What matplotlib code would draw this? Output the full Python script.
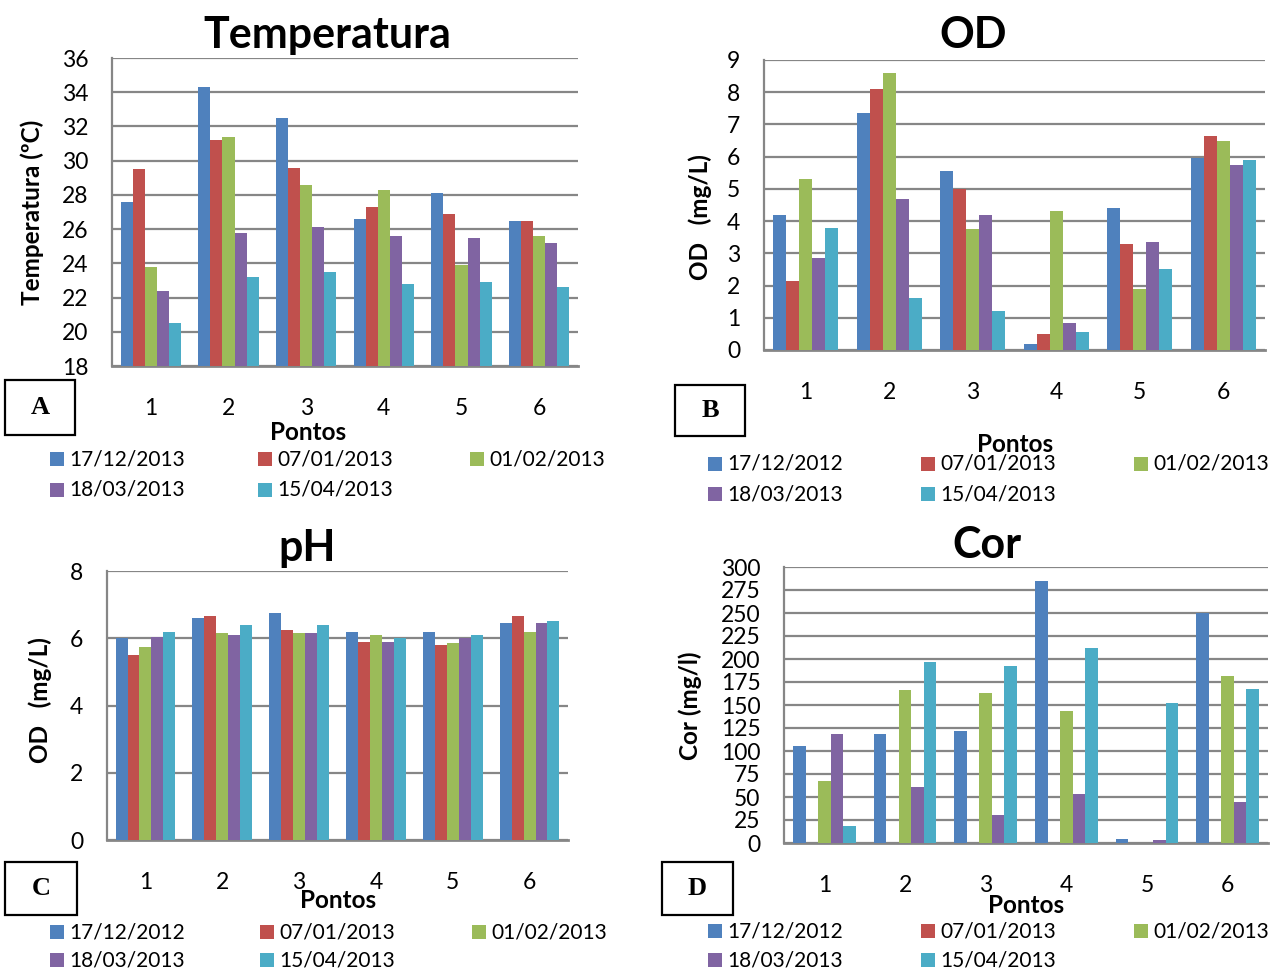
import matplotlib
matplotlib.use("Agg")
import matplotlib.pyplot as plt
from matplotlib.patches import Rectangle
import numpy as np

# data
pontos = [1, 2, 3, 4, 5, 6]
colors = ["#4F81BD", "#C0504D", "#9BBB59", "#8064A2", "#4BACC6"]
datas_temp = ["17/12/2013", "07/01/2013", "01/02/2013", "18/03/2013", "15/04/2013"]
datas = ["17/12/2012", "07/01/2013", "01/02/2013", "18/03/2013", "15/04/2013"]

# one row per date, one column per ponto
temperatura = [
    [27.6, 34.3, 32.5, 26.6, 28.1, 26.5],
    [29.5, 31.2, 29.6, 27.3, 26.9, 26.5],
    [23.8, 31.4, 28.6, 28.3, 23.9, 25.6],
    [22.4, 25.8, 26.1, 25.6, 25.5, 25.2],
    [20.5, 23.2, 23.5, 22.8, 22.9, 22.6],
]
od = [
    [4.2, 7.35, 5.55, 0.2, 4.4, 5.95],
    [2.15, 8.1, 5.0, 0.5, 3.3, 6.65],
    [5.3, 8.6, 3.75, 4.3, 1.9, 6.5],
    [2.85, 4.7, 4.2, 0.85, 3.35, 5.75],
    [3.8, 1.6, 1.2, 0.55, 2.5, 5.9],
]
ph = [
    [6.0, 6.6, 6.75, 6.2, 6.2, 6.45],
    [5.5, 6.65, 6.25, 5.9, 5.8, 6.65],
    [5.75, 6.15, 6.15, 6.1, 5.85, 6.2],
    [6.05, 6.1, 6.15, 5.9, 6.0, 6.45],
    [6.2, 6.4, 6.4, 6.0, 6.1, 6.5],
]
cor = [
    [105, 118, 122, 285, 4, 250],
    [0, 0, 0, 0, 0, 0],
    [67, 166, 163, 143, 0, 182],
    [119, 61, 30, 53, 3, 45],
    [19, 197, 192, 212, 152, 167],
]

W, H = 1272, 971
fig = plt.figure(figsize=(W / 100, H / 100), dpi=100)
FONT = "Lato"
GRID = "#868686"


def fx(x):
    return x / W


def fy(y):
    return 1 - y / H


def painel(box, valores, ylim, yticks, titulo, tpos, ylabel, ypos,
           letra, lbox, pontos_pos, legenda, leg_cols, leg_rows):
    l, t, r, b = box
    ax = fig.add_axes([fx(l), fy(b), (r - l) / W, (b - t) / H])
    w = 0.155
    x = np.array(pontos, dtype=float)
    for j, serie in enumerate(valores):
        alt = np.array(serie) - ylim[0]
        ax.bar(x + (j - 2) * w, alt, width=w, bottom=ylim[0],
               color=colors[j], linewidth=0, zorder=3)
    ax.set_xlim(0.5, 6.5)
    ax.set_ylim(*ylim)
    ax.set_yticks(yticks)
    ax.set_xticks(pontos)
    ax.yaxis.grid(True, color=GRID, linewidth=1.6, zorder=0)
    for s in ["top", "right"]:
        ax.spines[s].set_visible(False)
    ax.spines["left"].set_color(GRID)
    ax.spines["left"].set_linewidth(1.6)
    ax.spines["bottom"].set_color(GRID)
    ax.spines["bottom"].set_linewidth(2)
    ax.tick_params(axis="y", length=0, pad=17, labelsize=16.5)
    ax.tick_params(axis="x", length=0, pad=23, labelsize=16.5)
    for lab in ax.get_xticklabels() + ax.get_yticklabels():
        lab.set_family(FONT)
    fig.text(fx(tpos[0]), fy(tpos[1]), titulo, ha="center", va="center",
             fontsize=31, fontweight="bold", family=FONT)
    fig.text(fx(ypos[0]), fy(ypos[1]), ylabel, ha="center", va="center",
             rotation=90, fontsize=17.5, fontweight="bold", family=FONT)
    fig.text(fx(pontos_pos[0]), fy(pontos_pos[1]), "Pontos", ha="center",
             va="center", fontsize=17.5, fontweight="bold", family=FONT)
    bl, bt, br, bb = lbox
    fig.patches.append(Rectangle((fx(bl), fy(bb)), (br - bl) / W, (bb - bt) / H,
                                 transform=fig.transFigure, fill=False,
                                 edgecolor="black", linewidth=1.6))
    fig.text(fx((bl + br) / 2), fy((bt + bb) / 2), letra, ha="center",
             va="center", fontsize=19, fontweight="bold",
             family="Liberation Serif")
    for k, nome in enumerate(legenda):
        cx = leg_cols[k % 3]
        cy = leg_rows[k // 3]
        fig.patches.append(Rectangle((fx(cx), fy(cy + 7)), 14 / W, 14 / H,
                                     transform=fig.transFigure,
                                     facecolor=colors[k], edgecolor="none"))
        fig.text(fx(cx + 19), fy(cy), nome, ha="left", va="center",
                 fontsize=15, family=FONT)
    return ax


painel((112, 58, 578, 366), temperatura, (18, 36), range(18, 37, 2),
       "Temperatura", (327, 35), "Temperatura (ºC)", (32, 212),
       "A", (5, 380, 75, 435), (308, 432), datas_temp,
       (50, 258, 470), (459, 490))

painel((764, 60, 1265, 350), od, (0, 9), range(0, 10),
       "OD", (973, 35), "OD   (mg/L)", (700, 217),
       "B", (675, 385, 745, 436), (1015, 445), datas,
       (708, 921, 1134), (464, 494))

painel((107, 571, 568, 840), ph, (0, 8), range(0, 9, 2),
       "pH", (307, 548), "OD   (mg/L)", (40, 700),
       "C", (5, 862, 77, 915), (338, 900), datas,
       (50, 260, 472), (932, 960))

painel((784, 567, 1268, 843), cor, (0, 300), range(0, 301, 25),
       "Cor", (987, 545), "Cor (mg/l)", (690, 706),
       "D", (662, 862, 733, 915), (1026, 905), datas,
       (708, 921, 1134), (931, 960))

fig.savefig("out.png", dpi=100)
